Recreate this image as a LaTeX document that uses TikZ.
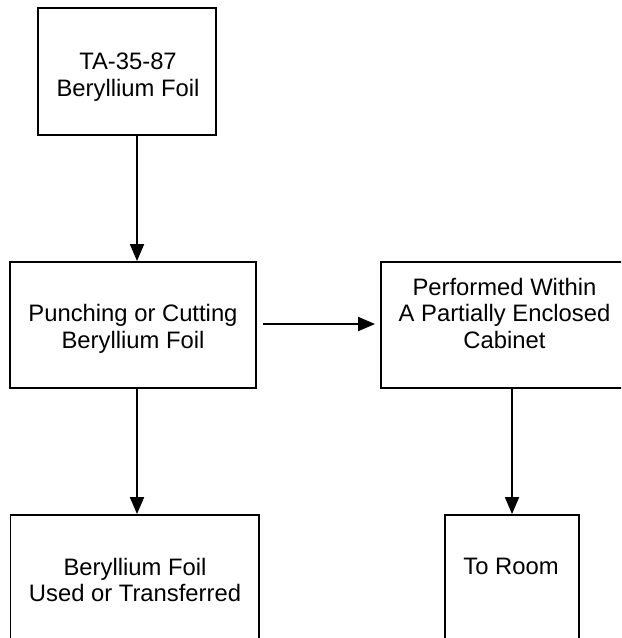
\documentclass[tikz,border=0pt]{standalone}
\usepackage{fontspec}
\setmainfont{Liberation Sans}
\usetikzlibrary{arrows.meta}
\begin{document}
\begin{tikzpicture}[x=0.75pt, y=-0.75pt,
  stagebox/.style={draw=black, line width=1.4pt, inner sep=0pt, fill=none},
  label/.style={inner sep=0pt, align=center, font=\fontsize{17.85pt}{20pt}\selectfont},
  flow/.style={line width=1.4pt, -{Triangle[length=12.75pt, width=10.5pt]}}]
  % page frame (the drawing runs off the right and bottom edges)
  \fill[white] (0,0) rectangle (621,638);
  \useasboundingbox (0,0) rectangle (621,638);
  \clip (0,0) rectangle (621,638);

  % process boxes
  \node[stagebox, minimum width=178*0.75pt, minimum height=127*0.75pt] (b1) at (127,71.5) {};
  \node[stagebox, minimum width=246*0.75pt, minimum height=126*0.75pt] (b2) at (133,325) {};
  \node[stagebox, minimum width=247*0.75pt, minimum height=126*0.75pt] (b3) at (504.5,325) {};
  \node[stagebox, minimum width=248.5*0.75pt, minimum height=126*0.75pt] (b4) at (134.75,578) {};
  \node[stagebox, minimum width=134*0.75pt, minimum height=126*0.75pt] (b5) at (512,578) {};

  % box texts
  \node[label] (t1) at (128,77.2) {TA-35-87\\Beryllium Foil};
  \node[label] (t2) at (133,328.9) {Punching or Cutting\\Beryllium Foil};
  \node[label] (t3) at (504.5,313.2) {Performed Within\\A Partially Enclosed\\Cabinet};
  \node[label] (t4) at (135,579.9) {Beryllium Foil\\Used or Transferred};
  \node[label] (t5) at (511,566.5) {To Room};

  % guide coordinates for the connector lines
  \coordinate (left line) at (137,0);
  \coordinate (right line) at (512,0);
  \coordinate (side line) at (0,324);

  % connectors
  \draw[flow] (b1.south -| left line) -- (b2.north -| left line);
  \draw[flow, shorten <=4.5pt, shorten >=3.75pt] (b2.east |- side line) -- (b3.west |- side line);
  \draw[flow] (b2.south -| left line) -- (b4.north -| left line);
  \draw[flow] (b3.south -| right line) -- (b5.north -| right line);
\end{tikzpicture}
\end{document}
